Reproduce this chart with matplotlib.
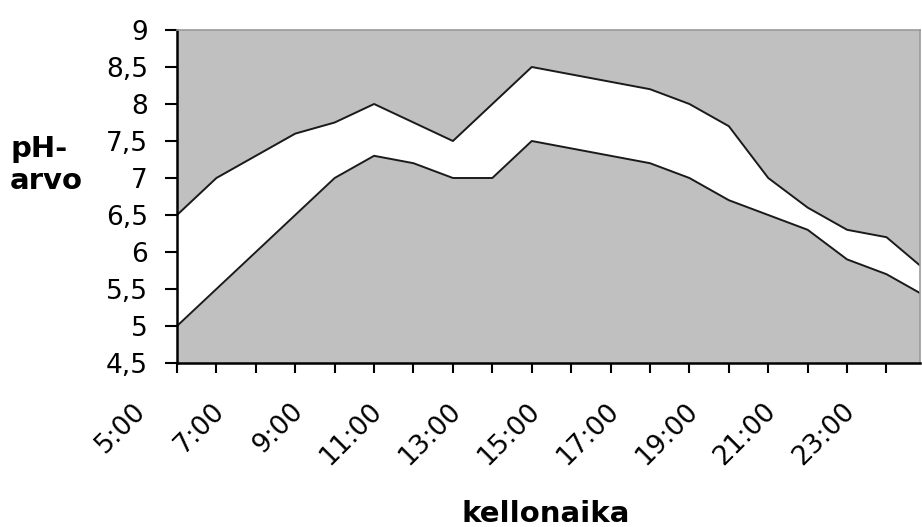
import matplotlib
matplotlib.use("Agg")
import matplotlib.pyplot as plt
import matplotlib.transforms as mtransforms
import numpy as np

# hourly readings from 5:00 to 0:00
hours = ["5:00", "6:00", "7:00", "8:00", "9:00", "10:00", "11:00", "12:00",
         "13:00", "14:00", "15:00", "16:00", "17:00", "18:00", "19:00",
         "20:00", "21:00", "22:00", "23:00", "0:00"]
ph_low = [5.0, 5.5, 6.0, 6.5, 7.0, 7.3, 7.2, 7.0, 7.0, 7.5,
          7.4, 7.3, 7.2, 7.0, 6.7, 6.5, 6.3, 5.9, 5.7, 5.4]
ph_high = [6.5, 7.0, 7.3, 7.6, 7.75, 8.0, 7.75, 7.5, 8.0, 8.5,
           8.4, 8.3, 8.2, 8.0, 7.7, 7.0, 6.6, 6.3, 6.2, 5.75]
y_ticks = [4.5, 5, 5.5, 6, 6.5, 7, 7.5, 8, 8.5, 9]

GRAY = "#c0c0c0"

plt.rcParams["font.family"] = "DejaVu Sans"

fig = plt.figure(figsize=(9.22, 5.27), dpi=100)
ax = fig.add_axes([177 / 922, 164 / 527, 743 / 922, 333 / 527])
ax.set_facecolor(GRAY)

x = np.arange(len(hours))
ax.fill_between(x, ph_low, ph_high, color="white", lw=0)
ax.plot(x, ph_low, color="#1a1a1a", lw=1.4)
ax.plot(x, ph_high, color="#1a1a1a", lw=1.4)

ax.set_xlim(0, 18.85)
ax.set_ylim(4.5, 9)

ax.set_yticks(y_ticks)
ax.set_yticklabels([f"{v:g}".replace(".", ",") for v in y_ticks], fontsize=19)
ax.tick_params(axis="y", length=9, width=1.5, pad=12, direction="out")

ax.set_xticks(x[:19])
ax.set_xticklabels([h if i % 2 == 0 else "" for i, h in enumerate(hours[:19])],
                   fontsize=19)
ax.tick_params(axis="x", length=7, width=1.5, pad=18, direction="out")
shift = mtransforms.ScaledTranslation(-32 / 72, 0, fig.dpi_scale_trans)
for lab in ax.get_xticklabels():
    lab.set_rotation(45)
    lab.set_ha("right")
    lab.set_va("top")
    lab.set_rotation_mode("anchor")
    lab.set_transform(lab.get_transform() + shift)

for side in ["left", "bottom"]:
    ax.spines[side].set_linewidth(1.8)
    ax.spines[side].set_color("black")
for side in ["top", "right"]:
    ax.spines[side].set_linewidth(1.2)
    ax.spines[side].set_color("#9a9a9a")

fig.text(10 / 922, 1 - 165 / 527, "pH-\narvo", fontsize=21, fontweight="bold",
         ha="left", va="center", linespacing=1.15)
fig.text(546 / 922, 1 - 514 / 527, "kellonaika", fontsize=21, fontweight="bold",
         ha="center", va="center")

fig.savefig("out.png", dpi=100)
